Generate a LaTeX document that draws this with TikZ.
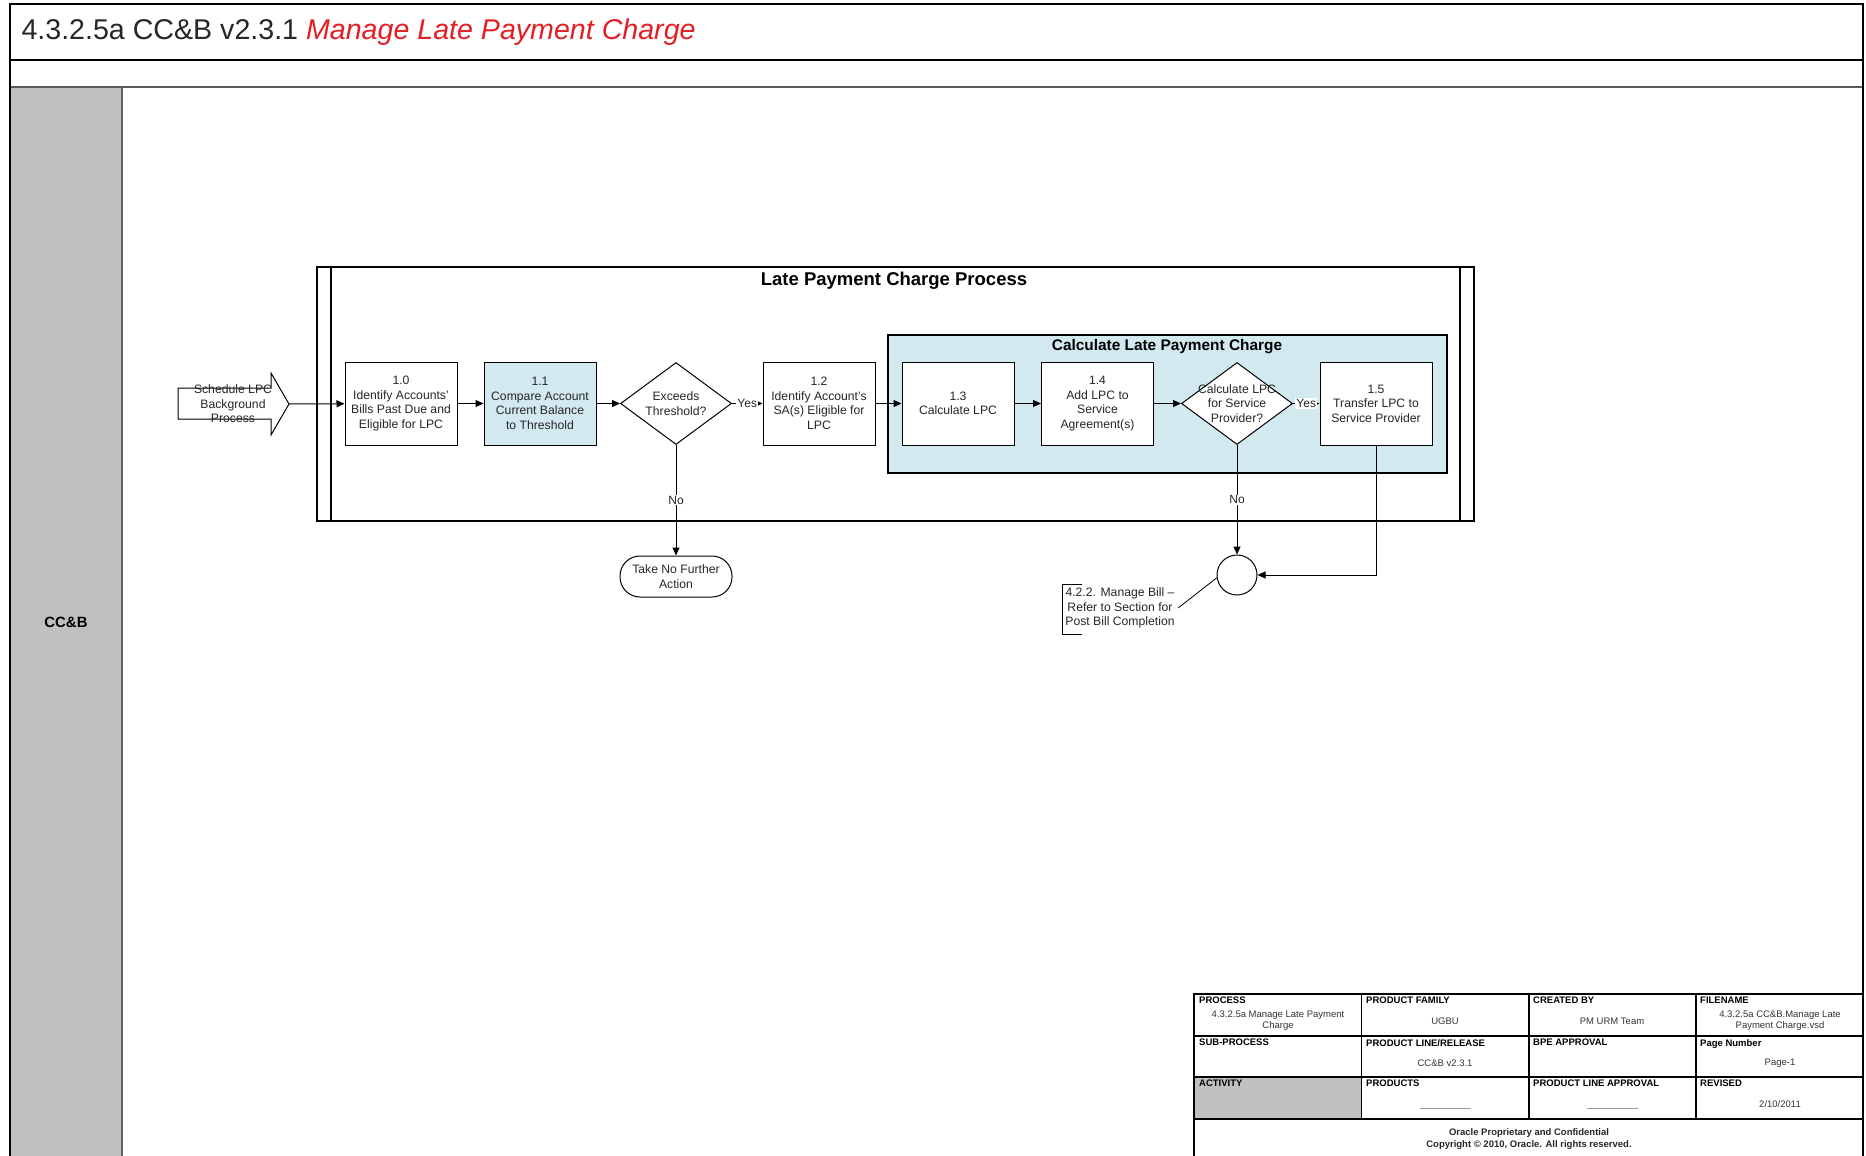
\documentclass[tikz,border=0pt]{standalone}
\usepackage{fontspec}
\setmainfont{Liberation Sans}
\usetikzlibrary{shapes.geometric, arrows.meta, positioning}
\definecolor{lpcblue}{RGB}{210,233,240}
\definecolor{lanegray}{RGB}{192,192,192}
\definecolor{titlered}{RGB}{228,30,36}

\begin{document}
\begin{tikzpicture}[x=1pt, y=-1pt,
            % Style for the process steps
            task/.style={draw, line width=1pt, fill=white, minimum width=112pt, minimum height=83pt, inner sep=2pt, txt},
            % Style for the decision diamonds (text is placed on top separately)
            decision/.style={draw, diamond, line width=1pt, fill=white, minimum width=111pt, minimum height=82pt, inner sep=0pt},
            % Style for the texts of the flow
            txt/.style={font=\fontsize{12.2}{14.5}\selectfont, align=center, text=black!85},
            % Style for the connectors and their labels
            flow/.style={line width=1pt, -{Triangle[length=8pt, width=7pt]}},
            lbl/.style={font=\fontsize{12}{14}\selectfont, text=black!85, fill=white, inner sep=1pt},
            % Styles for the title block cells
            hdr/.style={font=\fontsize{9.5}{11}\selectfont\bfseries, anchor=north west, inner sep=0pt},
            val/.style={font=\fontsize{9.5}{11}\selectfont, text=black!80, align=center, inner sep=0pt}
        ]

        \useasboundingbox (0,0) rectangle (1866,1156);

        % --- Page frame, title bar and lane ---
        \fill[lanegray] (10,87) rectangle (122,1160);
        \draw[line width=1.2pt, black!60] (122,87) -- (122,1160);
        \draw[line width=1.5pt] (10,60) -- (1863,60);
        \draw[line width=1.5pt, black!65] (10,87) -- (1863,87);
        \draw[line width=2pt] (10,1160) -- (10,4) -- (1863,4) -- (1863,1160);
        \node[anchor=west, font=\fontsize{28.6}{32}\selectfont, text=black!85] (title) at (18,32)
            {4.3.2.5a CC\&B v2.3.1 \textcolor{titlered}{\itshape Manage Late Payment Charge}};
        \node[font=\fontsize{14.9}{17}\selectfont\bfseries] (lane) at (66,622) {CC\&B};

        % --- Pool with its double side bars ---
        \draw[line width=2pt] (317,267) rectangle (1474,521);
        \draw[line width=2pt] (331,267) -- (331,521);
        \draw[line width=2pt] (1460,267) -- (1460,521);
        \node[font=\fontsize{18.5}{22}\selectfont\bfseries] (pooltitle) at (894,281) {Late Payment Charge Process};

        % --- Sub-process box ---
        \draw[line width=2pt, fill=lpcblue] (888,335) rectangle (1447,473);
        \node[font=\fontsize{15.4}{18}\selectfont\bfseries] (subtitle) at (1167,347) {Calculate Late Payment Charge};

        % --- Start: scheduled background process ---
        \draw[line width=1pt, fill=white] (178,388) -- (271,388) -- (271,373) -- (289,404)
            -- (271,435) -- (271,419) -- (178,419) -- cycle;
        \coordinate (schedtip) at (289,404);
        \node[txt] (sched) at (233,404) {Schedule LPC\\Background\\Process};

        % --- Steps and decisions ---
        \node[task] (b10) at (401,403.5) {1.0\\Identify Accounts'\\Bills Past Due and\\Eligible for LPC};
        \node[task, fill=lpcblue] (b11) at (540,403.5) {1.1\\Compare Account\\Current Balance\\to Threshold};
        \node[decision] (d1) at (676,403.5) {};
        \node[txt] (d1txt) at (d1) {Exceeds\\Threshold?};
        \node[task] (b12) at (819,403.5) {1.2\\Identify Account's\\SA(s) Eligible for\\LPC};
        \node[task] (b13) at (958,403.5) {1.3\\Calculate LPC};
        \node[task] (b14) at (1097.5,403.5) {1.4\\Add LPC to\\Service\\Agreement(s)};
        \node[decision] (d2) at (1237,403.5) {};
        \node[txt] (d2txt) at (d2) {Calculate LPC\\for Service\\Provider?};
        \node[task] (b15) at (1376,403.5) {1.5\\Transfer LPC to\\Service Provider};

        % --- Ends ---
        \node[draw, line width=1pt, rounded corners=20pt, minimum width=112pt, minimum height=41pt, txt] (stop) at (676,576.5) {Take No Further\\Action};
        \node[draw, circle, line width=1pt, minimum size=40pt, inner sep=0pt] (join) at (1237,575) {};
        \node[txt] (note) at (1120,608) {4.2.2. Manage Bill \textendash\\Refer to Section for\\Post Bill Completion};
        \draw[line width=0.8pt] (1082,584) -- (1062,584) -- (1062,634) -- (1082,634);
        \draw[line width=0.8pt] (note.east) -- (join.188);

        % --- Connectors ---
        \draw[flow] (schedtip) -- (b10);
        \draw[flow] (b10) -- (b11);
        \draw[flow] (b11) -- (d1);
        \draw[flow] (d1) -- node[lbl] {Yes} (b12);
        \draw[flow] (d1) -- node[lbl] {No} (stop);
        \draw[flow] (b12) -- (b13);
        \draw[flow] (b13) -- (b14);
        \draw[flow] (b14) -- (d2);
        \draw[flow] (d2) -- node[lbl] {Yes} (b15);
        \draw[flow] (d2) -- node[lbl] {No} (join);
        \draw[flow] (b15) |- (join);

        % --- Title block ---
        \fill[lanegray] (1194,1077) rectangle (1361.5,1119);
        \draw[line width=1.5pt] (1194,1160) -- (1194,994) -- (1864,994);
        \foreach \y in {1036,1077,1119} {
            \draw[line width=1.5pt] (1194,\y) -- (1864,\y);
        }
        \foreach \x in {1361.5,1529,1696} {
            \draw[line width=1.5pt] (\x,994) -- (\x,1119);
        }
        % Cell headers
        \node[hdr] (hprocess) at (1199,997) {PROCESS};
        \node[hdr] (hfamily) at (1366,997) {PRODUCT FAMILY};
        \node[hdr] (hcreated) at (1533,997) {CREATED BY};
        \node[hdr] (hfile) at (1700,997) {FILENAME};
        \node[hdr] (hsub) at (1199,1039) {SUB-PROCESS};
        \node[hdr] (hline) at (1366,1039) {PRODUCT LINE/RELEASE};
        \node[hdr] (hbpe) at (1533,1039) {BPE APPROVAL};
        \node[hdr] (hpage) at (1700,1039) {Page Number};
        \node[hdr] (hactivity) at (1199,1080) {ACTIVITY};
        \node[hdr] (hproducts) at (1366,1080) {PRODUCTS};
        \node[hdr] (happroval) at (1533,1080) {PRODUCT LINE APPROVAL};
        \node[hdr] (hrevised) at (1700,1080) {REVISED};
        % Cell values
        \node[val] (vprocess) at (1278,1020.5) {4.3.2.5a Manage Late Payment\\Charge};
        \node[val] (vfamily) at (1445,1021) {UGBU};
        \node[val] (vcreated) at (1612,1021) {PM URM Team};
        \node[val] (vfile) at (1780,1020.5) {4.3.2.5a CC\&B.Manage Late\\Payment Charge.vsd};
        \node[val] (vline) at (1445,1063) {CC\&B v2.3.1};
        \node[val] (vpage) at (1780,1063) {Page-1};
        \node[val] (vrevised) at (1780,1104) {2/10/2011};
        \draw[black!40, line width=0.8pt] (1420,1108) -- (1471,1108);
        \draw[black!40, line width=0.8pt] (1587,1108) -- (1638,1108);
        \node[val, font=\fontsize{9.5}{11.5}\selectfont\bfseries, text=black!85] (vcopy) at (1529,1139)
            {Oracle Proprietary and Confidential\\Copyright \textcopyright{} 2010, Oracle. All rights reserved.};

        \end{tikzpicture}
\end{document}
